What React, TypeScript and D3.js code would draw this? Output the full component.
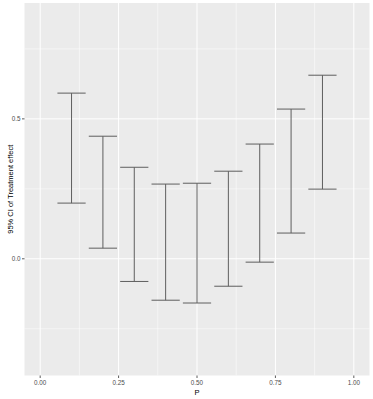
import React, { useEffect, useRef } from 'react';
import * as d3 from 'd3';

const pValues = [0.1, 0.2, 0.3, 0.4, 0.5, 0.6, 0.7, 0.8, 0.9];
const lowerCI = [0.199, 0.038, -0.081, -0.148, -0.158, -0.098, -0.012, 0.092, 0.249];
const upperCI = [0.592, 0.438, 0.327, 0.267, 0.27, 0.313, 0.41, 0.535, 0.656];
const xTicks = [0, 0.25, 0.5, 0.75, 1];
const xMinor = [0.125, 0.375, 0.625, 0.875];
const yTicks = [0, 0.5];
const yMinor = [-0.25, 0.25, 0.75];

export default function App() {
  const svgRef = useRef<SVGSVGElement>(null);

  useEffect(() => {
    if (!svgRef.current) return;
    const width = 373;
    const height = 399;
    const left = 24.5, right = 369.5, top = 3, bottom = 375.5;

    d3.select(svgRef.current).selectAll('*').remove();
    const svg = d3.select(svgRef.current)
      .attr('width', width)
      .attr('height', height)
      .style('font-family', '"Liberation Sans", Arial, sans-serif');

    svg.append('rect').attr('width', width).attr('height', height).attr('fill', '#fff');

    const x = d3.scaleLinear().domain([-0.05, 1.05]).range([left, right]);
    const y = d3.scaleLinear().domain([-0.417, 0.914]).range([bottom, top]);

    svg.append('rect')
      .attr('x', left).attr('y', top)
      .attr('width', right - left).attr('height', bottom - top)
      .attr('fill', '#ebebeb');

    const g = svg.append('g');
    g.selectAll('line.xminor').data(xMinor).enter().append('line')
      .attr('x1', d => x(d)).attr('x2', d => x(d)).attr('y1', top).attr('y2', bottom)
      .attr('stroke', '#fff').attr('stroke-width', 0.5);
    g.selectAll('line.yminor').data(yMinor).enter().append('line')
      .attr('y1', d => y(d)).attr('y2', d => y(d)).attr('x1', left).attr('x2', right)
      .attr('stroke', '#fff').attr('stroke-width', 0.5);
    g.selectAll('line.xmajor').data(xTicks).enter().append('line')
      .attr('x1', d => x(d)).attr('x2', d => x(d)).attr('y1', top).attr('y2', bottom)
      .attr('stroke', '#fff').attr('stroke-width', 1);
    g.selectAll('line.ymajor').data(yTicks).enter().append('line')
      .attr('y1', d => y(d)).attr('y2', d => y(d)).attr('x1', left).attr('x2', right)
      .attr('stroke', '#fff').attr('stroke-width', 1);

    // error bars
    const half = 0.045;
    const bars = svg.append('g').attr('stroke', '#5e5e5e').attr('stroke-width', 1).attr('fill', 'none');
    pValues.forEach((p, i) => {
      bars.append('line').attr('x1', x(p)).attr('x2', x(p)).attr('y1', y(lowerCI[i])).attr('y2', y(upperCI[i]));
      bars.append('line').attr('x1', x(p - half)).attr('x2', x(p + half)).attr('y1', y(upperCI[i])).attr('y2', y(upperCI[i]));
      bars.append('line').attr('x1', x(p - half)).attr('x2', x(p + half)).attr('y1', y(lowerCI[i])).attr('y2', y(lowerCI[i]));
    });

    // x axis
    const xa = svg.append('g');
    xa.selectAll('line').data(xTicks).enter().append('line')
      .attr('x1', d => x(d)).attr('x2', d => x(d)).attr('y1', bottom).attr('y2', bottom + 2.5)
      .attr('stroke', '#333').attr('stroke-width', 0.8);
    xa.selectAll('text').data(xTicks).enter().append('text')
      .attr('x', d => x(d)).attr('y', bottom + 9.5)
      .attr('text-anchor', 'middle').attr('font-size', 6.3).attr('fill', '#4d4d4d')
      .text(d => d3.format('.2f')(d));
    svg.append('text').attr('x', (left + right) / 2).attr('y', 395)
      .attr('text-anchor', 'middle').attr('font-size', 7.5).attr('fill', '#000').text('P');

    // y axis
    const ya = svg.append('g');
    ya.selectAll('line').data(yTicks).enter().append('line')
      .attr('y1', d => y(d)).attr('y2', d => y(d)).attr('x1', left - 2.5).attr('x2', left)
      .attr('stroke', '#333').attr('stroke-width', 0.8);
    ya.selectAll('text').data(yTicks).enter().append('text')
      .attr('x', left - 4).attr('y', d => y(d) + 2.2)
      .attr('text-anchor', 'end').attr('font-size', 6.3).attr('fill', '#4d4d4d')
      .text(d => d3.format('.1f')(d));
    svg.append('text')
      .attr('transform', `translate(${13},${(top + bottom) / 2}) rotate(-90)`)
      .attr('text-anchor', 'middle').attr('font-size', 7.5).attr('fill', '#000')
      .text('95% CI of Treatment effect');
  }, []);

  return <svg ref={svgRef} style={{ position: 'absolute', left: 0, top: 0 }}></svg>;
}
